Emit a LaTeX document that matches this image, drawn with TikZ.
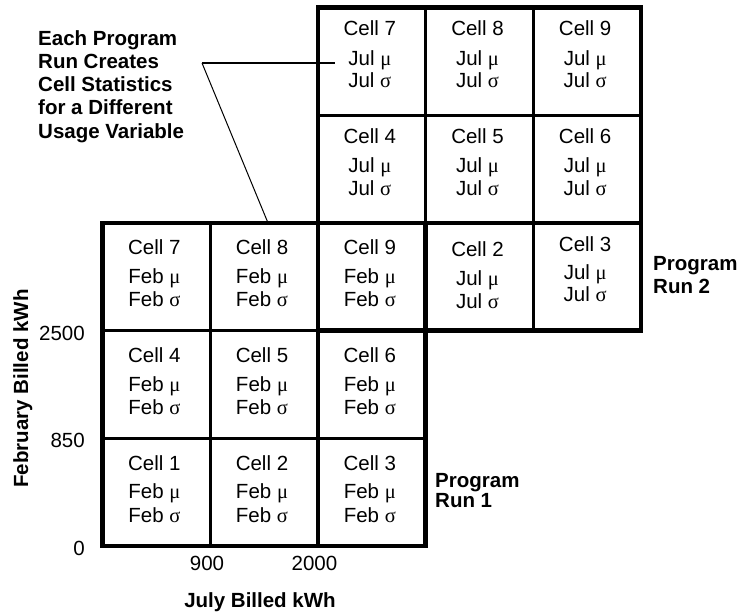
\documentclass[tikz,border=0pt]{standalone}
\usepackage{fontspec}
\setmainfont{Liberation Sans}
\newfontfamily\symfont{Liberation Serif}

% One statistics cell: name, centre x, top y, cell number, month, three baseline offsets
\newcommand\statcell[8]{%
  \node[txt, anchor=base] (#1-t) at (#2, #3+#6) {Cell #4};
  \node[txt, anchor=base] (#1-m) at (#2, #3+#7) {#5 {\symfont μ}};
  \node[txt, anchor=base] (#1-s) at (#2, #3+#8) {#5 {\symfont σ}};
}

\begin{document}
\begin{tikzpicture}[x=1pt, y=-1pt,
  txt/.style={inner sep=0pt, font=\fontsize{20.5}{24}\selectfont},
  btxt/.style={inner sep=0pt, font=\fontsize{20.5}{24}\selectfont\bfseries},
  outerline/.style={line width=4.4pt},
  innerline/.style={line width=3.2pt},
  leader/.style={line width=2pt},
  thinleader/.style={line width=1pt},
]
\useasboundingbox (0,0) rectangle (742,616);

% ---- grid for program run 1 (February) ----
\draw[innerline] (210.2,222.9) -- (210.2,546);
\draw[innerline] (317.9,330.6) -- (317.9,546);
\draw[innerline] (102.5,438.3) -- (425.6,438.3);
\draw[innerline] (102.5,330.6) -- (317.9,330.6);

% ---- grid for program run 2 (July) ----
\draw[innerline] (425.6,7.5) -- (425.6,222.9);
\draw[innerline] (533.3,7.5) -- (533.3,330.6);
\draw[innerline] (317.9,115.2) -- (641,115.2);
\draw[innerline] (425.6,222.9) -- (641,222.9);

% ---- outer borders ----
\draw[outerline] (102.5,222.9) rectangle (425.6,546);
\draw[outerline] (317.9,7.5) rectangle (641,330.6);

% ---- February cells ----
\statcell{f1}{154.4}{438.3}{1}{Feb}{32}{60.5}{84}
\statcell{f2}{262.0}{438.3}{2}{Feb}{32}{60.5}{84}
\statcell{f3}{369.8}{438.3}{3}{Feb}{32}{60.5}{84}
\statcell{f4}{154.4}{330.6}{4}{Feb}{32}{60.5}{84}
\statcell{f5}{262.0}{330.6}{5}{Feb}{32}{60.5}{84}
\statcell{f6}{369.8}{330.6}{6}{Feb}{32}{60.5}{84}
\statcell{f7}{154.4}{222.9}{7}{Feb}{32}{60.5}{84}
\statcell{f8}{262.0}{222.9}{8}{Feb}{32}{60.5}{84}
\statcell{f9}{369.8}{222.9}{9}{Feb}{32}{60.5}{84}

% ---- July cells ----
\statcell{j2}{477.5}{222.9}{2}{Jul}{34}{63}{86}
\statcell{j3}{585.2}{222.9}{3}{Jul}{29}{57}{79}
\statcell{j4}{369.8}{115.2}{4}{Jul}{28}{57.5}{80}
\statcell{j5}{477.5}{115.2}{5}{Jul}{28}{57.5}{80}
\statcell{j6}{585.2}{115.2}{6}{Jul}{28}{57.5}{80}
\statcell{j7}{369.8}{7.5}{7}{Jul}{28}{57.5}{80}
\statcell{j8}{477.5}{7.5}{8}{Jul}{28}{57.5}{80}
\statcell{j9}{585.2}{7.5}{9}{Jul}{28}{57.5}{80}

% ---- axis tick labels ----
\node[txt, anchor=base east] (t0)    at (85,555.5) {0};
\node[txt, anchor=base east] (t850)  at (85,447.8) {850};
\node[txt, anchor=base east] (t2500) at (85,340.1) {2500};
\node[txt, anchor=base] (t900)  at (207,570) {900};
\node[txt, anchor=base] (t2000) at (314.5,570) {2000};

% ---- axis titles ----
\node[btxt, anchor=base] (xtitle) at (260,607) {July Billed kWh};
\node[btxt, anchor=base, rotate=90] (ytitle) at (28,388.5) {February Billed kWh};

% ---- program run labels ----
\node[btxt, anchor=base west] (run1a) at (435,487) {Program};
\node[btxt, anchor=base west] (run1b) at (435,507) {Run 1};
\node[btxt, anchor=base west] (run2a) at (653,270) {Program};
\node[btxt, anchor=base west] (run2b) at (653,293) {Run 2};

% ---- note with leader lines ----
\foreach \line [count=\i] in {Each Program, Run Creates, Cell Statistics, for a Different, Usage Variable}
  \node[btxt, anchor=base west] (note\i) at (38,{45+23.3*(\i-1)}) {\line};
\coordinate (leadstart) at (202,63);
\coordinate (leadend) at (335,63);
\coordinate (leadtip) at (268,222.9);
\draw[leader] (leadstart) -- (leadend);
\draw[thinleader] (leadstart) -- (leadtip);
\end{tikzpicture}
\end{document}
